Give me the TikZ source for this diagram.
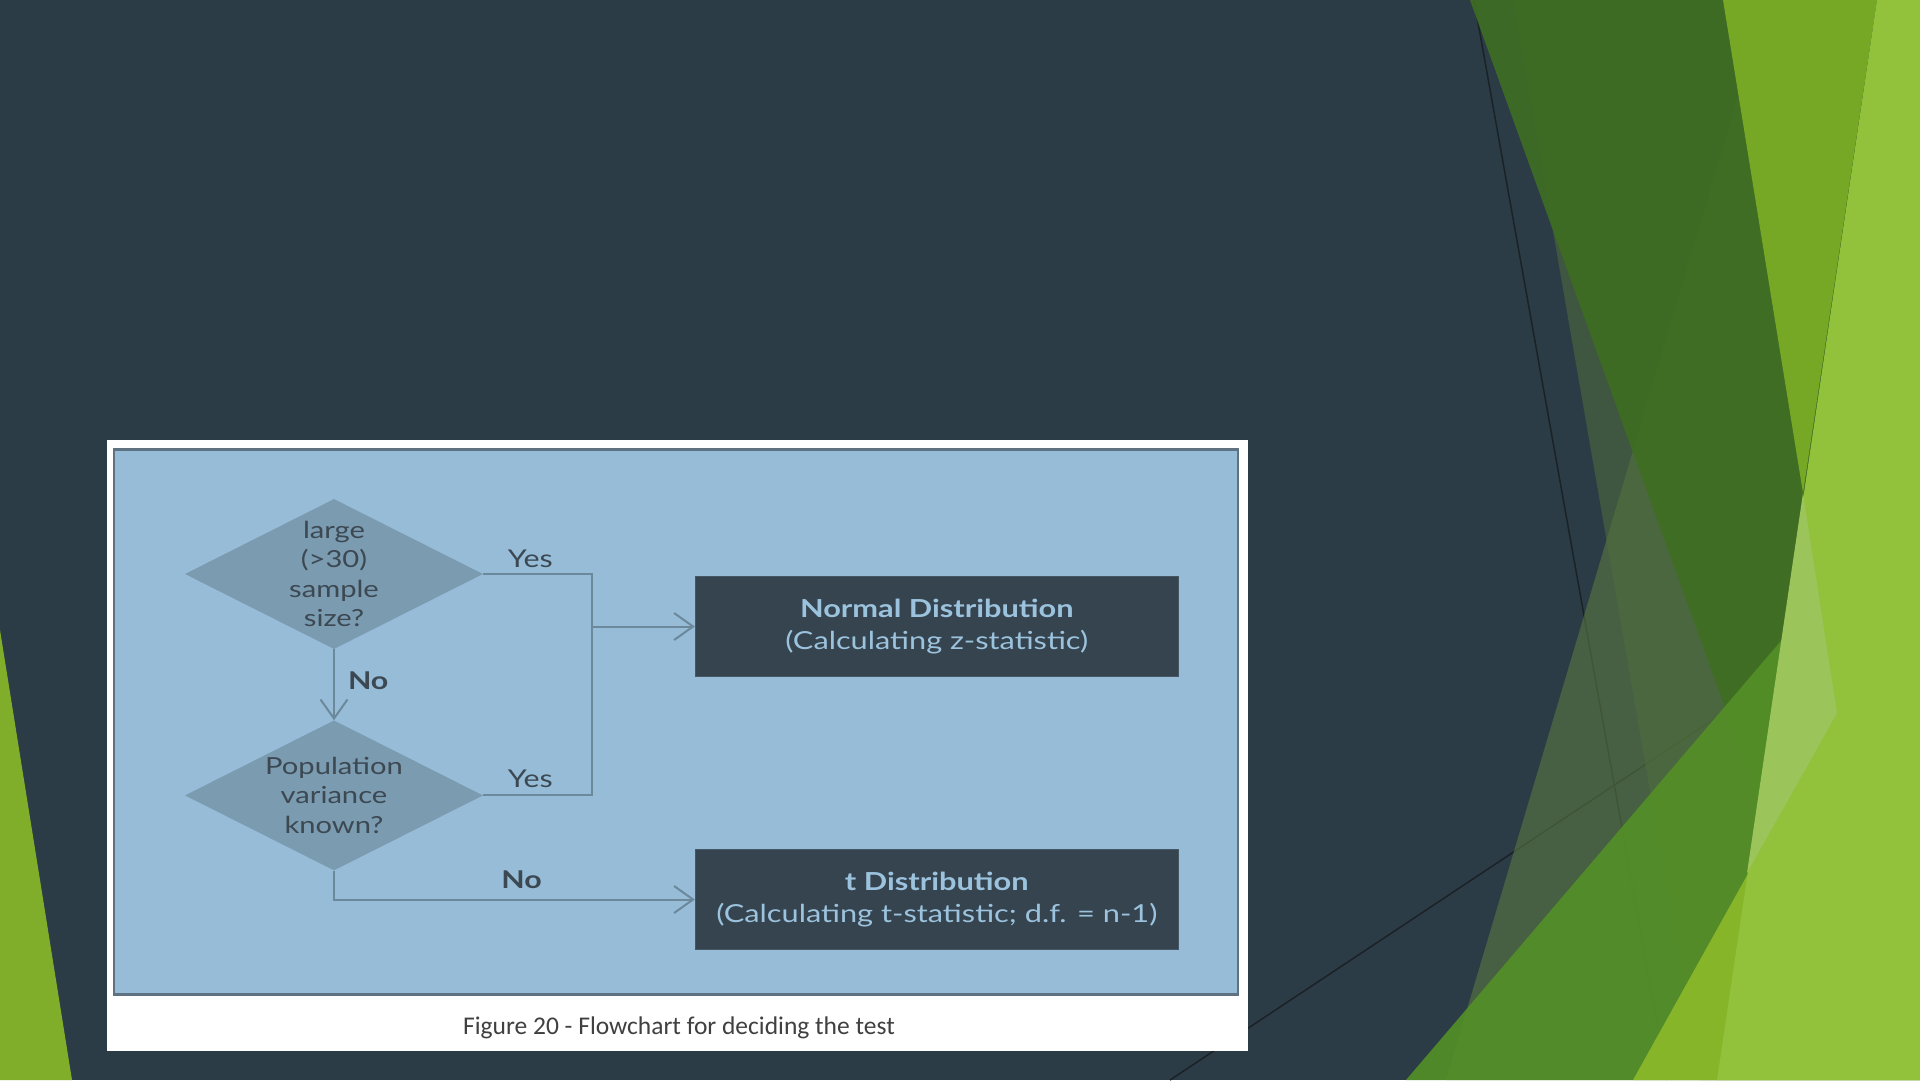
\documentclass[tikz,border=0pt]{standalone}
\usepackage{fontspec}
\setmainfont{Lato}[FakeStretch=1.24]
\newfontfamily\captionfont{Carlito}
\usetikzlibrary{positioning,arrows.meta,shapes.geometric}
\definecolor{slide}{HTML}{2C3C46}
\definecolor{panelblue}{HTML}{96BCD7}
\definecolor{panelrim}{HTML}{5E7282}
\definecolor{decfill}{HTML}{7B9BB0}
\definecolor{linkgray}{HTML}{6C889B}
\definecolor{resfill}{HTML}{36444F}
\definecolor{restext}{HTML}{9CC3DE}
\definecolor{inktext}{HTML}{3C4852}
\definecolor{capgray}{HTML}{404040}
\definecolor{wirecol}{HTML}{1B2227}
\definecolor{leftleaf}{HTML}{80AD2A}
\definecolor{facetgray}{HTML}{5A7841}
\definecolor{facetmoss}{HTML}{506E3C}
\definecolor{leafdark}{HTML}{3E6E22}
\definecolor{olive}{HTML}{76A725}
\definecolor{grass}{HTML}{538F27}
\definecolor{limelow}{HTML}{86B52A}
\definecolor{lime}{HTML}{92C13C}
\definecolor{pale}{HTML}{9BC45A}
\tikzset{
	every picture/.style={/utils/exec={\rmfamily}},
	card/.style={rectangle, fill=white, minimum width=1141pt, minimum height=611pt, inner sep=0pt},
	panel/.style={rectangle, fill=panelblue, draw=panelrim, line width=2.5pt, minimum width=1124pt, minimum height=545pt, inner sep=0pt},
	decision/.style={diamond, fill=decfill, minimum width=298pt, minimum height=150pt, inner sep=0pt},
	dectext/.style={align=center, text=inktext, inner sep=0pt, font=\fontsize{23.5}{29.4}\selectfont},
	result/.style={rectangle, fill=resfill, draw=resfill!85!restext, line width=1pt, minimum width=483pt, minimum height=100pt, align=center, text=restext, font=\fontsize{24.8}{31.6}\selectfont},
	link/.style={draw=linkgray, line width=2pt},
	arrow/.style={link, -{Straight Barb[length=19pt, width=27pt]}},
	lbl/.style={text=inktext, inner sep=2pt, font=\fontsize{24.5}{28}\selectfont},
	lblbold/.style={lbl, font=\fontsize{24.5}{28}\selectfont\bfseries},
	wire/.style={draw=wirecol, line width=1.5pt},
}
\begin{document}
\begin{tikzpicture}[x=1pt, y=-1pt]
	\useasboundingbox (0,0) rectangle (1920,1080);
	\fill[slide] (0,0) rectangle (1920,1080);
	\fill[leftleaf] (0,630) -- (72,1080) -- (0,1080) -- cycle;
	\draw[wire] (1474,0) -- (1667,1080);
	\draw[wire] (1170,1080) -- (1720,715);
	\fill[facetgray, fill opacity=0.6] (1767,0) -- (1920,0) -- (1920,1080) -- (1446,1080) -- cycle;
	\fill[facetmoss, fill opacity=0.55] (1513,0) -- (1920,0) -- (1920,1080) -- (1700,1080) -- cycle;
	\fill[leafdark, fill opacity=0.9] (1470,0) -- (1877,0) -- (1760,805) -- cycle;
	\fill[olive] (1723,0) -- (1877,0) -- (1803,493) -- cycle;
	\fill[grass, fill opacity=0.92] (1406,1080) -- (1920,478) -- (1920,1080) -- cycle;
	\fill[limelow] (1633,1080) -- (1920,565) -- (1920,1080) -- cycle;
	\fill[lime] (1877,0) -- (1920,0) -- (1920,1080) -- (1717,1080) -- cycle;
	\fill[pale] (1803,493) -- (1837,713) -- (1747,873) -- cycle;

	\node[card] (card) at (677,745) {};
	\node[panel] (panel) at (676,722) {};
	\node[text=capgray, font=\captionfont\fontsize{25.5}{30}\selectfont] (caption) at (679,1028) {Figure 20 - Flowchart for deciding the test};

	\node[decision] (large) at (334,574) {};
	\node[dectext] (largetext) at (large) {large\\(>30)\\sample\\size?};
	\node[decision, below=71pt of large] (variance) {};
	\node[dectext] (variancetext) at (variance) {Population\\variance\\known?};
	\node[result] (normal) at (936.8,626.5) {\textbf{Normal Distribution}\\(Calculating z-statistic)};
	\node[result, below=172pt of normal] (tdist) {\textbf{t Distribution}\\(Calculating t-statistic; d.f. = n-1)};
	\coordinate (join) at (591.5,0 |- normal.west);

	\draw[link] (large.east) -- node[lbl, above=3pt, xshift=-7pt] {Yes} (large.east -| join) -- (variance.east -| join) -- node[lbl, above=5pt, xshift=-7pt] {Yes} (variance.east);
	\draw[arrow] (join) -- (normal.west);
	\draw[arrow] (large.south) -- node[lblbold, pos=0.45, right=11pt] {No} (variance.north);
	\draw[arrow] (variance.south) |- node[lblbold, pos=0.76, above=8pt] {No} (tdist.west);
\end{tikzpicture}
\end{document}
